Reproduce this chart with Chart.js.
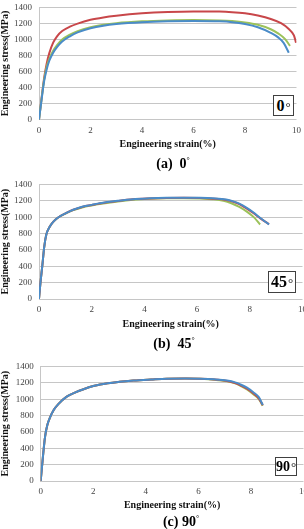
<!DOCTYPE html>
<html>
<head>
<meta charset="utf-8">
<script src="https://cdn.jsdelivr.net/npm/chart.js@4.4.0/dist/chart.umd.min.js"></script>
<style>
	body { margin: 0; width: 304px; height: 529px; overflow: hidden; background: #fff; position: relative; font-family: "Liberation Serif", "Times New Roman", serif; }
	.wrap { position: absolute; left: 0; }
	.tag { position: absolute; background: #fff; border: 1px solid #404040; box-sizing: border-box; font-weight: bold; color: #000; text-align: center; white-space: nowrap; }
	.tag span { font-weight: normal; font-size: 13px; position: relative; top: 0px; margin-left: 1px; color: #222; }
	.cap { position: absolute; font-weight: bold; font-size: 14px; transform: translate(-50%, -50%); white-space: nowrap; color: #000; }
	.cap sup { font-size: 8px; font-weight: normal; }
</style>
</head>
<body>
<div class="wrap" id="w1"><canvas id="c1"></canvas></div>
<div class="wrap" id="w2"><canvas id="c2"></canvas></div>
<div class="wrap" id="w3"><canvas id="c3"></canvas></div>

<div class="tag" style="left:273px;top:95px;width:21px;height:21px;font-size:16px;line-height:19px">0<span>°</span></div>
<div class="tag" style="left:268px;top:271px;width:28px;height:22px;font-size:16px;line-height:20px">45<span>°</span></div>
<div class="tag" style="left:275px;top:457px;width:22px;height:19px;font-size:14px;line-height:17px">90<span>°</span></div>

<div class="cap" style="left:173px;top:164px">(a)&nbsp;&nbsp;0<sup>°</sup></div>
<div class="cap" style="left:174px;top:344px">(b)&nbsp;&nbsp;45<sup>°</sup></div>
<div class="cap" style="left:181px;top:522px">(c) 90<sup>°</sup></div>

<script>
var red = '#c8474a'
var green = '#9cc25a'
var blue = '#4a8cc8'
var gridColor = '#c6c6c6'
var serif = "'Liberation Serif', 'Times New Roman', serif"

// axis ticks
var stressTicks = [0, 200, 400, 600, 800, 1000, 1200, 1400]
var strainTicks = [0, 2, 4, 6, 8, 10]

// (a) 0 deg
var strainA = [0, 0.1, 0.2, 0.3, 0.4, 0.55, 0.7, 0.9, 1.2, 1.5, 2.0, 2.5, 3.0, 4.0, 5.0, 6.0, 7.0, 7.5, 8.0, 8.5, 9.0, 9.4, 9.7, 9.9, 9.98]
var stressA_red = [0, 270, 520, 700, 830, 960, 1040, 1105, 1160, 1198, 1245, 1275, 1296, 1326, 1343, 1350, 1348, 1341, 1326, 1298, 1256, 1203, 1130, 1050, 960]
var strainA_green = [0, 0.1, 0.2, 0.3, 0.4, 0.55, 0.7, 0.9, 1.2, 1.5, 2.0, 2.5, 3.0, 4.0, 5.0, 6.0, 7.0, 7.5, 8.0, 8.5, 9.0, 9.3, 9.55, 9.75]
var stressA_green = [0, 260, 500, 660, 760, 860, 930, 1000, 1062, 1105, 1152, 1183, 1203, 1226, 1238, 1243, 1238, 1230, 1213, 1183, 1128, 1073, 1008, 920]
var strainA_blue = [0, 0.1, 0.2, 0.3, 0.4, 0.55, 0.7, 0.9, 1.2, 1.5, 2.0, 2.5, 3.0, 4.0, 5.0, 6.0, 7.0, 7.5, 8.0, 8.5, 9.0, 9.3, 9.5, 9.7]
var stressA_blue = [0, 250, 480, 630, 735, 835, 905, 975, 1040, 1088, 1140, 1172, 1192, 1215, 1226, 1230, 1226, 1216, 1193, 1153, 1083, 1023, 958, 835]

// (b) 45 deg
var strainB = [0, 0.05, 0.13, 0.2, 0.28, 0.4, 0.53, 0.7, 1.04, 1.3, 1.67, 2.0, 2.3, 3.0, 3.57, 4.2, 4.84, 5.5, 6.1, 6.6, 7.1, 7.4, 7.6, 7.9, 8.13, 8.4, 8.63, 8.73]
var stressB_blue = [0, 180, 421, 640, 790, 880, 940, 990, 1051, 1090, 1130, 1150, 1169, 1200, 1220, 1230, 1236, 1238, 1236, 1230, 1216, 1190, 1165, 1110, 1060, 990, 935, 910]
var stressB_red = [0, 180, 421, 640, 790, 880, 940, 990, 1051, 1090, 1128, 1148, 1167, 1198, 1218, 1228, 1234, 1236, 1234, 1226, 1210, 1185, 1158, 1100, 1050, 985, 935, 915]
var strainB_green = [0, 0.05, 0.13, 0.2, 0.28, 0.4, 0.53, 0.7, 1.04, 1.3, 1.67, 2.0, 2.3, 3.0, 3.57, 4.2, 4.84, 5.5, 6.1, 6.6, 7.0, 7.3, 7.6, 7.9, 8.15, 8.39]
var stressB_green = [0, 180, 421, 640, 790, 880, 940, 990, 1048, 1085, 1122, 1143, 1160, 1192, 1212, 1224, 1230, 1232, 1228, 1218, 1200, 1170, 1125, 1065, 1000, 910]

// (c) 90 deg
var strainC = [0, 0.08, 0.165, 0.25, 0.36, 0.5, 0.67, 0.99, 1.3, 1.63, 2.0, 2.26, 3.0, 3.53, 4.2, 4.8, 5.5, 6.07, 6.6, 7.09, 7.4, 7.6, 7.85, 8.1, 8.3, 8.45]
var stressC_blue = [0, 280, 540, 680, 780, 870, 940, 1031, 1080, 1121, 1160, 1180, 1212, 1227, 1240, 1250, 1252, 1250, 1242, 1227, 1205, 1180, 1140, 1082, 1025, 930]
var stressC_red = [0, 280, 540, 680, 780, 870, 940, 1031, 1080, 1121, 1160, 1180, 1212, 1227, 1240, 1250, 1252, 1249, 1240, 1222, 1198, 1170, 1128, 1068, 1010, 925]
var stressC_green = [0, 280, 540, 680, 780, 870, 940, 1031, 1080, 1121, 1160, 1180, 1212, 1227, 1240, 1250, 1252, 1248, 1238, 1218, 1192, 1163, 1120, 1058, 1000, 918]

function pts(xs, ys) {
	return xs.map(function(x, i) { return { x: x, y: ys[i] } })
}

function line(color, data) {
	return {
		data: data,
		showLine: true,
		borderColor: color,
		backgroundColor: color,
		borderWidth: 2,
		pointRadius: 0,
		cubicInterpolationMode: 'monotone',
	}
}

// box: plot area in page pixels, tickGap / titleGap below plot bottom
function makeChart(n, series, box) {
	var padTop = 8
	var canvasW = 340
	var xH = box.titleGap + 6
	var canvas = document.getElementById('c' + n)
	var wrap = document.getElementById('w' + n)
	canvas.width = canvasW
	canvas.height = padTop + (box.bottom - box.top) + xH
	wrap.style.top = (box.top - padTop) + 'px'

	return new Chart(canvas, {
		type: 'scatter',
		data: { datasets: series },
		options: {
			responsive: false,
			animation: false,
			devicePixelRatio: 1,
			layout: { padding: { top: padTop, right: canvasW - box.right, left: 0, bottom: 0 } },
			plugins: { legend: { display: false }, tooltip: { enabled: false } },
			scales: {
				x: {
					type: 'linear',
					min: 0,
					max: 10,
					afterBuildTicks: function(s) { s.ticks = strainTicks.map(function(v) { return { value: v } }) },
					afterFit: function(s) { s.height = xH },
					grid: { display: false, drawTicks: false },
					border: { display: false },
					ticks: { padding: box.tickGap - 5.4, color: '#444', font: { family: serif, size: 9 }, callback: function(v) { return String(v) } },
					title: { display: true, text: 'Engineering strain(%)', color: '#111', padding: 0, font: { family: serif, size: 10, weight: 'bold', lineHeight: 1.2 } },
				},
				y: {
					min: 0,
					max: 1400,
					afterBuildTicks: function(s) { s.ticks = stressTicks.map(function(v) { return { value: v } }) },
					afterFit: function(s) { s.width = box.left },
					grid: { color: gridColor, lineWidth: 1, drawTicks: false },
					border: { display: true, color: gridColor },
					ticks: { padding: 7, color: '#444', font: { family: serif, size: 9 }, callback: function(v) { return String(v) } },
					title: { display: true, text: 'Engineering stress(MPa)', color: '#111', padding: 0, font: { family: serif, size: 10, weight: 'bold', lineHeight: 1.05 } },
				}
			}
		}
	})
}

makeChart(1, [
	line(blue, pts(strainA_blue, stressA_blue)),
	line(green, pts(strainA_green, stressA_green)),
	line(red, pts(strainA, stressA_red)),
], { top: 3.2, bottom: 120.7, left: 39, right: 296.5, tickGap: 10.5, titleGap: 24.3 })

makeChart(2, [
	line(blue, pts(strainB, stressB_blue)),
	line(red, pts(strainB, stressB_red)),
	line(green, pts(strainB_green, stressB_green)),
], { top: 180, bottom: 299, left: 39, right: 302.5, tickGap: 11, titleGap: 25 })

makeChart(3, [
	line(blue, pts(strainC, stressC_blue)),
	line(red, pts(strainC, stressC_red)),
	line(green, pts(strainC, stressC_green)),
], { top: 362, bottom: 481, left: 40.7, right: 303.5, tickGap: 11, titleGap: 24 })
</script>
</body>
</html>
